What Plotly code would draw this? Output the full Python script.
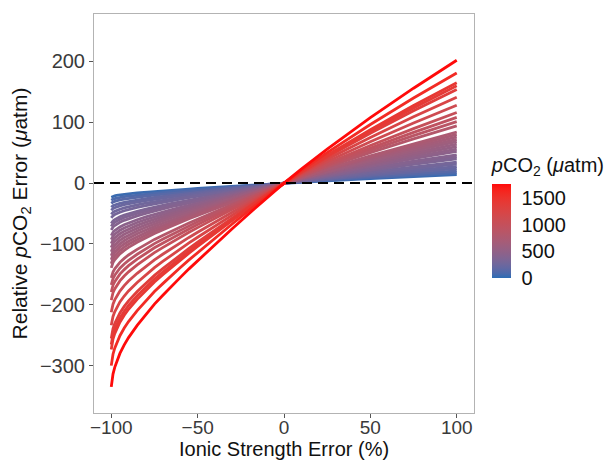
import plotly.graph_objects as go
from plotly.colors import sample_colorscale
import numpy as np

# Ionic strength error (%) sample points along each curve
ionic_err = [-100, -99.5, -99, -98, -97, -95, -92.5, -90, -85, -80, -75, -70, -65,
             -60, -55, -50, -40, -30, -20, -10, 0, 10, 25, 50, 75, 100]
# Reference curve read from the steepest (reddest) line, µatm
ref_curve = [-335, -322, -314, -303, -294, -280, -266, -254, -234, -216, -199, -184, -169,
             -155, -141, -127.5, -101, -75, -49.5, -24.5, 0, 23, 56, 107.5, 156, 202]

# Per-line values: error at +100 % (read at right end) and pCO2 (colour)
line_end_plus100 = [14, 17, 20, 24, 27, 31, 34.5, 40, 43, 46.5, 52, 56, 60, 64, 68, 72, 76, 80, 84,
                    94, 101, 108, 116, 128, 141, 154, 160, 165, 181, 202]
line_pco2 = [40, 90, 140, 195, 230, 265, 295, 345, 370, 400, 450, 485, 520, 555, 590, 625, 660, 695, 730,
             815, 875, 935, 1005, 1110, 1220, 1335, 1385, 1430, 1570, 1750]

cbar_ticks = [0, 500, 1000, 1500]
x_ticks = [-100, -50, 0, 50, 100]
y_ticks = [-300, -200, -100, 0, 100, 200]

# Colour scale: Lab interpolation between blue and red (ggplot-like gradient)
def srgb_to_lin(c):
    c = c / 255.0
    return np.where(c <= 0.04045, c / 12.92, ((c + 0.055) / 1.055) ** 2.4)

def lin_to_srgb(c):
    c = np.clip(c, 0, 1)
    return np.where(c <= 0.0031308, 12.92 * c, 1.055 * c ** (1 / 2.4) - 0.055) * 255

M = np.array([[0.4124, 0.3576, 0.1805], [0.2126, 0.7152, 0.0722], [0.0193, 0.1192, 0.9505]])
Minv = np.linalg.inv(M)
wp = np.array([0.95047, 1.0, 1.08883])

def f(t):
    return np.where(t > 0.008856, np.cbrt(t), 7.787 * t + 16 / 116)

def finv(t):
    return np.where(t > 0.206893, t ** 3, (t - 16 / 116) / 7.787)

def rgb_to_lab(rgb):
    xyz = M @ srgb_to_lin(np.array(rgb, float)) / wp
    fx, fy, fz = f(xyz)
    return np.array([116 * fy - 16, 500 * (fx - fy), 200 * (fy - fz)])

def lab_to_rgb(lab):
    L, a, b = lab
    fy = (L + 16) / 116
    fx = fy + a / 500
    fz = fy - b / 200
    xyz = np.array([finv(fx), finv(fy), finv(fz)]) * wp
    return lin_to_srgb(Minv @ xyz)

low = rgb_to_lab([44, 108, 180])
high = rgb_to_lab([255, 10, 10])
cscale = []
for t in np.linspace(0, 1, 21):
    r, g, b = lab_to_rgb(low + (high - low) * t)
    cscale.append([float(t), f"rgb({int(round(r))},{int(round(g))},{int(round(b))})"])

cmin, cmax = 0, 1750

fig = go.Figure()
ref = np.array(ref_curve)
for end, p in sorted(zip(line_end_plus100, line_pco2), key=lambda z: z[1]):
    col = sample_colorscale(cscale, [(p - cmin) / (cmax - cmin)])[0]
    fig.add_trace(go.Scatter(x=ionic_err, y=ref * end / ref_curve[-1], mode="lines",
                             line=dict(color=col, width=2.8),
                             showlegend=False, hoverinfo="skip"))

fig.add_trace(go.Scatter(
    x=[0, 0], y=[0, 0], mode="markers", showlegend=False, hoverinfo="skip",
    marker=dict(size=0.1, opacity=0, color=[cmin, cmax], cmin=cmin, cmax=cmax,
                colorscale=cscale, showscale=True,
                colorbar=dict(
                    title=dict(text="<i>p</i>CO<sub>2</sub> (<i>μ</i>atm)", side="top",
                               font=dict(size=20, color="#111")),
                    x=1.047, xanchor="left", xref="paper",
                    y=0.338, yanchor="bottom", len=0.31, lenmode="fraction",
                    thickness=19, outlinewidth=0,
                    tickvals=cbar_ticks, ticks="outside", ticklen=7, tickcolor="rgba(255,255,255,0)",
                    tickfont=dict(size=20, color="#111"), ypad=0, xpad=0)))
)

fig.add_shape(type="line", xref="paper", yref="y", x0=0, x1=1, y0=0, y1=0,
              line=dict(color="black", width=2, dash="10px,6px"), layer="above")

fig.add_annotation(text="Ionic Strength Error (%)", xref="paper", yref="paper",
                   x=0.5, y=-0.1203, xanchor="center", yanchor="bottom", showarrow=False,
                   borderpad=0, font=dict(size=20, color="#111"))

axis_common = dict(showgrid=False, zeroline=False, showline=True, mirror=True, automargin=False,
                   linecolor="#b3b3b3", linewidth=1, ticks="outside", ticklen=4,
                   tickcolor="#555")

fig.update_layout(
    width=616, height=461, margin=dict(l=94, r=142, t=14, b=48),
    paper_bgcolor="white", plot_bgcolor="white",
    font=dict(family="Liberation Sans, Arial, sans-serif"),
    xaxis=dict(range=[-110, 110], tickvals=x_ticks, ticklabelstandoff=-7,
               tickfont=dict(size=19, color="#3a3a3a"), **axis_common),
    yaxis=dict(range=[-378, 278], tickvals=y_ticks, tickfont=dict(size=20, color="#3a3a3a"),
               title=dict(text="Relative <i>p</i>CO<sub>2</sub> Error (<i>μ</i>atm)",
                          font=dict(size=21, color="#111"), standoff=6),
               **axis_common),
)

fig.write_html("out.html")
